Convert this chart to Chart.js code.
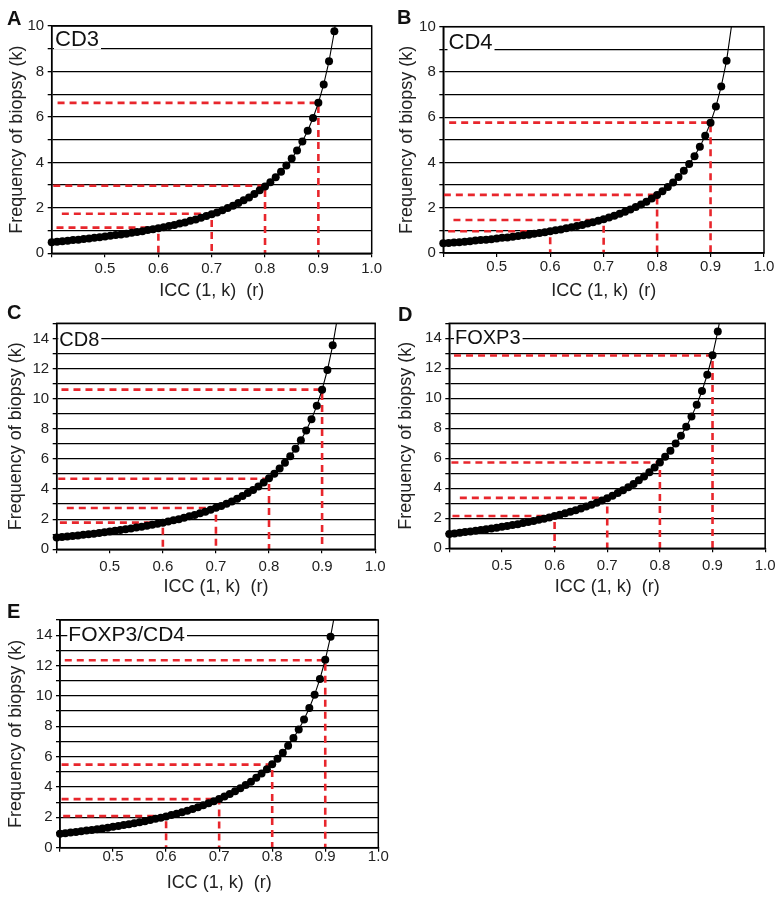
<!DOCTYPE html>
<html>
<head>
<meta charset="utf-8">
<title>Frequency of biopsy vs ICC</title>
<script src="https://cdn.jsdelivr.net/npm/chart.js@4.4.1/dist/chart.umd.min.js"></script>
<style>
    body { margin: 0; background: #fff; }
    #page { position: relative; width: 780px; height: 901px; overflow: hidden; }
    #page canvas { position: absolute; }
</style>
</head>
<body>
<div id="page">
    <canvas id="chartA" width="390" height="305" style="left:0px;top:0px;width:390px;height:305px"></canvas>
    <canvas id="chartB" width="390" height="305" style="left:390px;top:0px;width:390px;height:305px"></canvas>
    <canvas id="chartC" width="390" height="310" style="left:0px;top:290px;width:390px;height:310px"></canvas>
    <canvas id="chartD" width="390" height="310" style="left:390px;top:290px;width:390px;height:310px"></canvas>
    <canvas id="chartE" width="390" height="311" style="left:0px;top:590px;width:390px;height:311px"></canvas>
</div>

<script>
// ---------------- DATA ----------------

// ICC (1, k) values where a dot is plotted
const rValues = [
    0.40, 0.41, 0.42, 0.43, 0.44, 0.45, 0.46, 0.47, 0.48, 0.49,
    0.50, 0.51, 0.52, 0.53, 0.54, 0.55, 0.56, 0.57, 0.58, 0.59,
    0.60, 0.61, 0.62, 0.63, 0.64, 0.65, 0.66, 0.67, 0.68, 0.69,
    0.70, 0.71, 0.72, 0.73, 0.74, 0.75, 0.76, 0.77, 0.78, 0.79,
    0.80, 0.81, 0.82, 0.83, 0.84, 0.85, 0.86, 0.87, 0.88, 0.89,
    0.90, 0.91, 0.92, 0.93
];

// frequency of biopsy (k) read for each marker
const kCD3 = [
    0.49, 0.51, 0.53, 0.55, 0.58, 0.60, 0.63, 0.65, 0.68, 0.71,
    0.74, 0.77, 0.80, 0.83, 0.86, 0.90, 0.94, 0.97, 1.02, 1.06,
    1.10, 1.15, 1.20, 1.25, 1.31, 1.36, 1.43, 1.49, 1.56, 1.64,
    1.72, 1.80, 1.89, 1.99, 2.09, 2.21, 2.33, 2.46, 2.61, 2.77,
    2.94, 3.13, 3.35, 3.59, 3.86, 4.17, 4.52, 4.92, 5.39, 5.95,
    6.62, 7.43, 8.45, 9.77
];
const kCD4 = [
    0.43, 0.44, 0.46, 0.48, 0.50, 0.52, 0.55, 0.57, 0.59, 0.61,
    0.64, 0.67, 0.69, 0.72, 0.75, 0.78, 0.81, 0.85, 0.88, 0.92,
    0.96, 1.00, 1.04, 1.09, 1.14, 1.19, 1.24, 1.30, 1.36, 1.42,
    1.49, 1.57, 1.65, 1.73, 1.82, 1.92, 2.03, 2.14, 2.27, 2.41,
    2.56, 2.73, 2.92, 3.12, 3.36, 3.63, 3.93, 4.28, 4.69, 5.18,
    5.76, 6.47, 7.36, 8.50
];
const kCD8 = [
    0.78, 0.82, 0.85, 0.89, 0.92, 0.96, 1.00, 1.04, 1.09, 1.13,
    1.18, 1.23, 1.28, 1.33, 1.38, 1.44, 1.50, 1.56, 1.63, 1.69,
    1.77, 1.84, 1.92, 2.00, 2.09, 2.19, 2.28, 2.39, 2.50, 2.62,
    2.75, 2.88, 3.03, 3.18, 3.35, 3.53, 3.73, 3.94, 4.17, 4.43,
    4.71, 5.02, 5.36, 5.75, 6.18, 6.67, 7.23, 7.88, 8.63, 9.52,
    10.59, 11.90, 13.54
];
const kFOXP3 = [
    0.95, 0.99, 1.04, 1.08, 1.12, 1.17, 1.22, 1.27, 1.32, 1.37,
    1.43, 1.49, 1.55, 1.61, 1.68, 1.75, 1.82, 1.90, 1.97, 2.06,
    2.15, 2.24, 2.33, 2.43, 2.54, 2.66, 2.78, 2.90, 3.04, 3.18,
    3.34, 3.50, 3.68, 3.87, 4.07, 4.29, 4.53, 4.79, 5.07, 5.38,
    5.72, 6.10, 6.51, 6.98, 7.51, 8.10, 8.78, 9.57, 10.49, 11.57,
    12.87, 14.46
];
const kFOXP3CD4 = [
    0.92, 0.96, 1.00, 1.04, 1.08, 1.13, 1.17, 1.22, 1.27, 1.32,
    1.38, 1.43, 1.49, 1.55, 1.61, 1.68, 1.75, 1.82, 1.90, 1.98,
    2.06, 2.15, 2.24, 2.34, 2.44, 2.55, 2.67, 2.79, 2.92, 3.06,
    3.21, 3.37, 3.54, 3.72, 3.91, 4.13, 4.35, 4.60, 4.88, 5.17,
    5.50, 5.86, 6.26, 6.71, 7.22, 7.79, 8.45, 9.20, 10.08, 11.12,
    12.38, 13.90
];

// where the curve leaves the top of each panel [r, k]
const tailCD3 = [0.94, 11.5];
const tailCD4 = [0.945, 11.0];
const tailCD8 = [0.93, 15.6];
const tailFOXP3 = [0.92, 16.4];
const tailFOXP3CD4 = [0.92, 15.8];

// red dashed guides: ICC targets, k read at each target, where the dashes start
const refR = [0.6, 0.7, 0.8, 0.9];

const refCD3 = [1.13, 1.74, 2.97, 6.62];
const refCD4 = [0.96, 1.46, 2.57, 5.76];
const refCD8 = [1.77, 2.74, 4.68, 10.6];
const refFOXP3 = [2.15, 3.36, 5.72, 12.85];
const refFOXP3CD4 = [2.08, 3.20, 5.47, 12.35];

const startCD3 = [0.409, 0.419, 0.403, 0.411];
const startCD4 = [0.409, 0.419, 0.401, 0.411];
const startCD8 = [0.406, 0.419, 0.403, 0.409];
const startFOXP3 = [0.406, 0.420, 0.404, 0.409];
const startFOXP3CD4 = [0.406, 0.403, 0.403, 0.409];

// ---------------- LAYOUT ----------------

const FONT = "'Liberation Sans', Arial, Helvetica, sans-serif";

const panels = [
    {
        id: "chartA", letter: "A", name: "CD3",
        k: kCD3, tail: tailCD3, ref: refCD3, start: startCD3, yMax: 10,
        area: { l: 51.7, t: 26, r: 371.7, b: 253.3 },
        yTitlePad: 5.9, xTickPad: 2.6, xTitlePad: 2.7,
        label: { x: 55, y: 45.5, size: 22 }, letterPos: { x: 7, y: 24.5 }
    },
    {
        id: "chartB", letter: "B", name: "CD4",
        k: kCD4, tail: tailCD4, ref: refCD4, start: startCD4, yMax: 10,
        area: { l: 53.3, t: 26.7, r: 374, b: 253 },
        yTitlePad: 5.9, xTickPad: 1.3, xTitlePad: 2.7,
        label: { x: 58.5, y: 49.3, size: 22 }, letterPos: { x: 7, y: 24 }
    },
    {
        id: "chartC", letter: "C", name: "CD8",
        k: kCD8, tail: tailCD8, ref: refCD8, start: startCD8, yMax: 15,
        area: { l: 56.7, t: 33.3, r: 376, b: 259.3 },
        yTitlePad: 5.4, xTickPad: 4.4, xTitlePad: 2.2,
        label: { x: 59.3, y: 56, size: 20 }, letterPos: { x: 7, y: 29.3 }
    },
    {
        id: "chartD", letter: "D", name: "FOXP3",
        k: kFOXP3, tail: tailFOXP3, ref: refFOXP3, start: startFOXP3, yMax: 15,
        area: { l: 59.3, t: 33.3, r: 376.7, b: 258.3 },
        yTitlePad: 5.2, xTickPad: 4.4, xTitlePad: 2.2,
        label: { x: 65, y: 54, size: 20 }, letterPos: { x: 8, y: 30.7 }
    },
    {
        id: "chartE", letter: "E", name: "FOXP3/CD4",
        k: kFOXP3CD4, tail: tailFOXP3CD4, ref: refFOXP3CD4, start: startFOXP3CD4, yMax: 15,
        area: { l: 60, t: 30, r: 378.3, b: 257.7 },
        yTitlePad: 5.0, xTickPad: -3.4, xTitlePad: 6.9,
        label: { x: 68.3, y: 51, size: 21 }, letterPos: { x: 7, y: 28.3 }
    }
];

// frame, marker name on a white patch, panel letter
const panelDecor = {
    id: "panelDecor",
    afterDraw(chart, args, opts) {
        const ctx = chart.ctx;
        const a = chart.chartArea;
        ctx.save();

        ctx.strokeStyle = "#000";
        ctx.lineWidth = 1.5;
        ctx.strokeRect(a.left, a.top, a.right - a.left, a.bottom - a.top);

        ctx.font = opts.label.size + "px " + FONT;
        const w = ctx.measureText(opts.name).width;
        ctx.fillStyle = "#fff";
        ctx.fillRect(opts.label.x - 1, opts.label.y - opts.label.size * 0.76, w + 3, opts.label.size * 0.76 + 4);
        ctx.fillStyle = "#111";
        ctx.textAlign = "left";
        ctx.textBaseline = "alphabetic";
        ctx.fillText(opts.name, opts.label.x, opts.label.y);

        ctx.font = "bold 20px " + FONT;
        ctx.fillText(opts.letter, opts.letterPos.x, opts.letterPos.y);

        ctx.restore();
    }
};

// ---------------- CHARTS ----------------

panels.forEach(p => {

    const canvas = document.getElementById(p.id);
    const W = canvas.width;
    const H = canvas.height;

    const dots = p.k.map((k, i) => ({ x: rValues[i], y: k }));
    const curve = dots.concat([{ x: p.tail[0], y: p.tail[1] }]);

    const guides = refR.map((r, i) => ({
        type: "line",
        data: [
            { x: p.start[i], y: p.ref[i] },
            { x: r, y: p.ref[i] },
            { x: r, y: 0 }
        ],
        borderColor: "#e8262c",
        borderWidth: 2.6,
        borderDash: [7, 5],
        pointRadius: 0,
        fill: false,
        tension: 0,
        order: 3
    }));

    new Chart(canvas, {
        type: "scatter",

        data: {
            datasets: [
                {
                    data: dots,
                    backgroundColor: "#000",
                    pointRadius: 4,
                    pointBorderWidth: 0,
                    showLine: false,
                    clip: false,
                    order: 1
                },
                {
                    data: curve,
                    borderColor: "#000",
                    borderWidth: 1.1,
                    pointRadius: 0,
                    showLine: true,
                    tension: 0,
                    clip: 0,
                    order: 2
                }
            ].concat(guides)
        },

        options: {
            responsive: false,
            animation: false,
            events: [],
            layout: {
                padding: { left: 0, top: p.area.t, right: W - p.area.r, bottom: 0 }
            },
            plugins: {
                legend: { display: false },
                tooltip: { enabled: false },
                panelDecor: p
            },
            scales: {
                x: {
                    type: "linear",
                    min: 0.4,
                    max: 1.0,
                    ticks: {
                        stepSize: 0.1,
                        autoSkip: false,
                        maxRotation: 0,
                        padding: p.xTickPad,
                        color: "#222",
                        font: { family: FONT, size: 15 },
                        callback: v => v < 0.45 ? "" : v.toFixed(1)
                    },
                    grid: {
                        drawOnChartArea: false,
                        drawTicks: true,
                        tickLength: 4,
                        color: "#000",
                        lineWidth: 1.2
                    },
                    border: { color: "#000", width: 1.5 },
                    title: {
                        display: true,
                        text: "ICC (1, k)  (r)",
                        color: "#222",
                        font: { family: FONT, size: 18 },
                        padding: { top: 0, bottom: p.xTitlePad }
                    },
                    afterFit: scale => { scale.height = H - p.area.b; }
                },
                y: {
                    min: 0,
                    max: p.yMax,
                    ticks: {
                        stepSize: 1,
                        autoSkip: false,
                        padding: 3.5,
                        color: "#222",
                        font: { family: FONT, size: 15 },
                        callback: v => v % 2 === 0 ? String(v) : ""
                    },
                    grid: {
                        color: "#000",
                        lineWidth: 1.3,
                        tickLength: 4
                    },
                    border: { color: "#000", width: 1.5 },
                    title: {
                        display: true,
                        text: "Frequency of biopsy (k)",
                        color: "#222",
                        font: { family: FONT, size: 18 },
                        padding: { top: p.yTitlePad, bottom: 0 }
                    },
                    afterFit: scale => { scale.width = p.area.l; }
                }
            }
        },

        plugins: [panelDecor]
    });

});
</script>
</body>
</html>
